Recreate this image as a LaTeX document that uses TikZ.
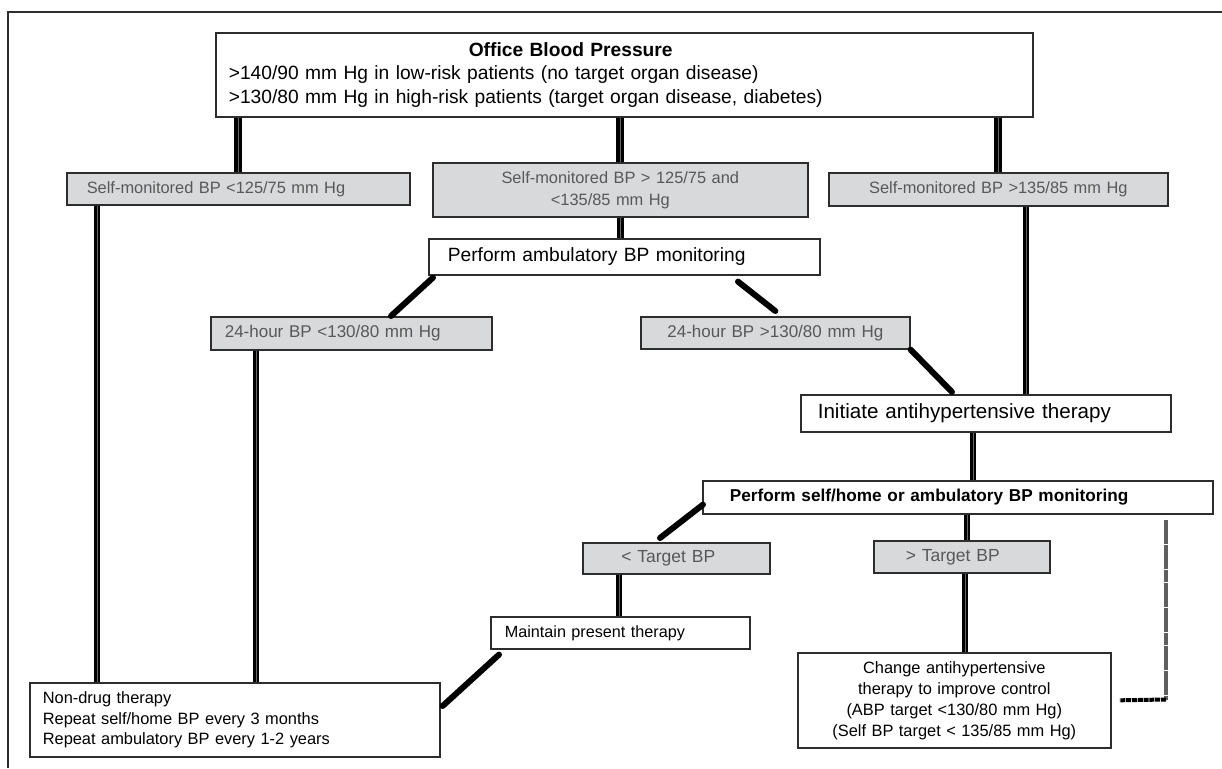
\documentclass[tikz,border=0pt]{standalone}
\usepackage{fontspec}
\setmainfont{Liberation Sans}
\usetikzlibrary{calc}
\definecolor{boxgray}{RGB}{216,217,219}
\definecolor{textgray}{RGB}{88,88,88}
\definecolor{rulegray}{RGB}{45,45,45}
\definecolor{loopgray}{RGB}{95,95,95}
\newcommand{\bigtxt}{\fontsize{9.6}{11.75}\selectfont}
\newcommand{\smalltxt}{\fontsize{8.2}{10.5}\selectfont}
\tikzstyle{whitebox} = [draw=rulegray, line width=0.8pt, fill=white, anchor=north west, inner xsep=5pt, inner ysep=0pt]
\tikzstyle{graybox} = [whitebox, fill=boxgray, text=textgray]
\tikzstyle{link} = [draw=black, line width=1.5pt, double=gray!80!black, double distance=0.35pt]
\tikzstyle{toplink} = [link, line width=1.8pt]
\tikzstyle{slant} = [draw=black, line width=3pt, line cap=round]
\tikzstyle{backlink} = [draw=loopgray, line width=2.4pt, dash pattern=on 6pt off 0.3pt]
\tikzstyle{backtail} = [draw=black, line width=2pt, dash pattern=on 2.5pt off 0.4pt]

\begin{document}
\begin{tikzpicture}[x=0.5pt, y=-0.5pt]
\useasboundingbox (0,0) rectangle (1222,768);
\draw[draw=rulegray, line width=1.2pt] (8,768) -- (8,12) -- (1222,12);

\node[whitebox, minimum width=408.5pt, minimum height=42pt, inner xsep=6.5pt,
      text width=395.5pt, align=left, font=\bigtxt] (office) at (215,32)
    {\hspace*{120pt}\textbf{Office Blood Pressure}\\
     >140/90 mm Hg in low-risk patients (no target organ disease)\\
     >130/80 mm Hg in high-risk patients (target organ disease, diabetes)};

\node[graybox, minimum width=171.5pt, minimum height=16pt, inner xsep=10pt,
      text width=151.5pt, align=left, font=\smalltxt] (lowself) at (66,172)
    {Self-monitored BP <125/75 mm Hg};
\node[graybox, minimum width=187.5pt, minimum height=27pt,
      text width=177.5pt, align=center, font=\fontsize{8.2}{11}\selectfont] (midself) at (432,162)
    {Self-monitored BP > 125/75 and\hspace*{25pt}\\ <135/85 mm Hg\hspace*{10pt}};
\node[graybox, minimum width=169.5pt, minimum height=16.5pt,
      text width=159.5pt, align=center, font=\smalltxt] (highself) at (828,172)
    {Self-monitored BP >135/85 mm Hg};

\node[whitebox, minimum width=195.5pt, minimum height=18pt, inner xsep=9.5pt,
      text width=176.5pt, align=left, font=\bigtxt] (abpm) at (428,238)
    {Perform ambulatory BP monitoring};

\node[graybox, minimum width=140.5pt, minimum height=16.5pt, inner xsep=7pt,
      text width=126.5pt, align=left, font=\fontsize{8.5}{10}\selectfont] (daylow) at (210,316)
    {24-hour BP <130/80 mm Hg};
\node[graybox, minimum width=134.5pt, minimum height=16pt,
      text width=124.5pt, align=center, font=\fontsize{8.5}{10}\selectfont] (dayhigh) at (640,316)
    {24-hour BP >130/80 mm Hg};

\node[whitebox, minimum width=185pt, minimum height=18.5pt, inner xsep=8.5pt,
      text width=168pt, align=left, font=\fontsize{10.3}{12}\selectfont] (start) at (800,394)
    {Initiate antihypertensive therapy};

\node[whitebox, minimum width=255pt, minimum height=16.5pt, inner xsep=13.5pt,
      text width=228pt, align=left, font=\fontsize{8.6}{10}\selectfont\bfseries] (recheck) at (702,480)
    {Perform self/home or ambulatory BP monitoring};

\node[graybox, minimum width=93.5pt, minimum height=15.5pt,
      text width=83.5pt, align=center, font=\fontsize{8.75}{10}\selectfont] (ontarget) at (582,542)
    {< Target BP\hspace*{8pt}};
\node[graybox, minimum width=88pt, minimum height=16pt,
      text width=78pt, align=center, font=\fontsize{8.75}{10}\selectfont] (offtarget) at (873,540)
    {> Target BP\hspace*{9pt}};

\node[whitebox, minimum width=129.5pt, minimum height=16pt, inner xsep=7pt,
      text width=115.5pt, align=left, font=\fontsize{8.1}{10}\selectfont] (keep) at (490,616)
    {Maintain present therapy};

\node[whitebox, minimum width=205pt, minimum height=37pt, inner xsep=6.5pt,
      text width=192pt, align=left, font=\fontsize{8.2}{10.25}\selectfont] (nodrug) at (29,682)
    {Non-drug therapy\\
     Repeat self/home BP every 3 months\\
     Repeat ambulatory BP every 1-2 years};

\node[whitebox, minimum width=156.5pt, minimum height=47.5pt,
      text width=146.5pt, align=center, font=\smalltxt] (change) at (797,652)
    {Change antihypertensive\hspace*{18pt}\\
     therapy to improve control\hspace*{18pt}\\
     (ABP target <130/80 mm Hg)\hspace*{18pt}\\
     (Self BP target < 135/85 mm Hg)\hspace*{18pt}};

\draw[toplink] (office.south -| lowself.north) -- (lowself.north);
\draw[toplink] (office.south -| midself.north) -- (midself.north);
\draw[toplink] (office.south -| highself.north) -- (highself.north);
\draw[link] (midself.south) -- (midself.south |- abpm.north);
\draw[link] ($(lowself.south west)+(31,0)$) -- ($(nodrug.north west)+(68,0)$);
\draw[link] ($(daylow.south west)+(46,0)$) -- ($(nodrug.north west)+(227,0)$);
\draw[slant] ($(abpm.south west)+(5,2)$) -- ($(daylow.north west)+(181,0)$);
\draw[slant] ($(abpm.south west)+(310,6)$) -- ($(dayhigh.north)+(0,-5)$);
\draw[slant] (dayhigh.south east) -- ($(start.north west)+(152,-2)$);
\draw[link] ($(highself.south west)+(198,0)$) -- ($(start.north west)+(226,0)$);
\draw[link] ($(start.south west)+(173,0)$) -- ($(recheck.north west)+(271,0)$);
\draw[slant] ($(recheck.south west)+(1,-10)$) -- ($(ontarget.north west)+(78,-4)$);
\draw[link] ($(recheck.south west)+(265,0)$) -- ($(offtarget.north west)+(94,0)$);
\draw[link] ($(offtarget.south west)+(92,0)$) -- ($(change.north west)+(168,0)$);
\draw[link] ($(ontarget.south west)+(37,0)$) -- ($(keep.north west)+(129,0)$);
\draw[slant] ($(keep.south west)+(9,5)$) -- ($(nodrug.north east)+(2,24)$);

\coordinate (turn) at (1166,699.5);
\draw[backlink] ($(recheck.south west)+(464,5)$) -- (turn);
\draw[backtail] (turn) -- ($(change.east)+(8,0)$);
\end{tikzpicture}
\end{document}
